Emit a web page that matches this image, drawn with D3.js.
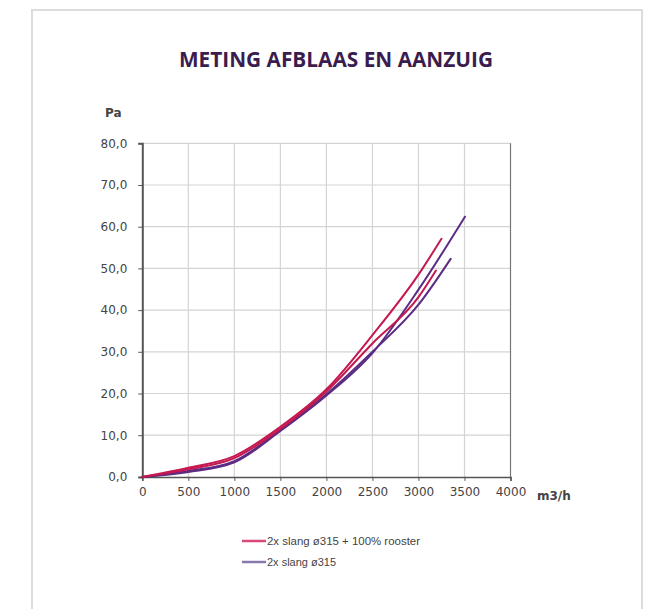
<!DOCTYPE html>
<html>
<head>
<meta charset="utf-8">
<script src="https://cdn.jsdelivr.net/npm/d3@7"></script>
<style>
  html, body { margin: 0; padding: 0; background: #fff; }
  svg { display: block; }
</style>
</head>
<body>
<svg id="chart" width="652" height="609"></svg>
<script>
// Airflow (m3/h) versus pressure (Pa) measurements
const chartTitle = "METING AFBLAAS EN AANZUIG";
const xTickValues = [0, 500, 1000, 1500, 2000, 2500, 3000, 3500, 4000];
const yTickValues = [0, 10, 20, 30, 40, 50, 60, 70, 80];
const seriesNames = ["2x slang ø315 + 100% rooster", "2x slang ø315"];

// two runs per configuration: [flow, pressure]
const roosterRunA = [[0, 0], [500, 2.2], [1000, 5.0], [1500, 12.0], [2000, 21.0], [2500, 34.0], [3000, 48.5], [3250, 57.1]];
const roosterRunB = [[0, 0], [500, 1.8], [1000, 4.5], [1500, 11.5], [2000, 20.5], [2500, 32.0], [3000, 43.1], [3190, 49.5]];
const slangRunA   = [[0, 0], [500, 1.2], [1000, 3.5], [1500, 11.0], [2000, 19.5], [2500, 29.7], [3000, 44.9], [3505, 62.4]];
const slangRunB   = [[0, 0], [500, 1.4], [1000, 3.8], [1500, 11.2], [2000, 19.8], [2500, 30.0], [3000, 41.3], [3350, 52.3]];

const colRooster = "#c4184f";
const colSlang = "#5a2c84";

const svg = d3.select("#chart");

// card frame
svg.append("rect")
  .attr("x", 32).attr("y", 10).attr("width", 610).attr("height", 620)
  .attr("fill", "#fff").attr("stroke", "#dcdcdc").attr("stroke-width", 2);

svg.append("text")
  .attr("x", 336).attr("y", 67)
  .attr("text-anchor", "middle")
  .attr("font-family", "'Open Sans', sans-serif")
  .attr("font-weight", 700)
  .attr("font-size", 22)
  .attr("textLength", 314)
  .attr("lengthAdjust", "spacingAndGlyphs")
  .attr("fill", "#3a1d4e")
  .text(chartTitle);

const plot = { left: 142.3, right: 510.5, top: 143.3, bottom: 476.9 };
const x = d3.scaleLinear().domain([0, 4000]).range([plot.left, plot.right]);
const y = d3.scaleLinear().domain([0, 80]).range([plot.bottom, plot.top]);

const fmt = d => d.toFixed(1).replace(".", ",");

// grid
const grid = svg.append("g");
grid.selectAll("line.v").data(xTickValues.filter(v => v > 0 && v < 4000)).join("line")
  .attr("x1", d => x(d)).attr("x2", d => x(d))
  .attr("y1", plot.top).attr("y2", plot.bottom)
  .attr("stroke", "#d4d4d4").attr("stroke-width", 1.2);
grid.selectAll("line.h").data(yTickValues.filter(v => v > 0)).join("line")
  .attr("x1", plot.left).attr("x2", plot.right)
  .attr("y1", d => y(d)).attr("y2", d => y(d))
  .attr("stroke", "#d4d4d4").attr("stroke-width", 1.2);
// right edge
svg.append("line")
  .attr("x1", plot.right).attr("x2", plot.right)
  .attr("y1", plot.top).attr("y2", plot.bottom)
  .attr("stroke", "#777").attr("stroke-width", 1.2);

// axes
const yAxis = svg.append("g")
  .attr("transform", `translate(${plot.left},0)`)
  .call(d3.axisLeft(y).tickValues(yTickValues).tickFormat(fmt).tickSize(4).tickPadding(11));
const xAxis = svg.append("g")
  .attr("transform", `translate(0,${plot.bottom})`)
  .call(d3.axisBottom(x).tickValues(xTickValues).tickFormat(d3.format("d")).tickSize(4).tickPadding(7));

[yAxis, xAxis].forEach(a => {
  a.select(".domain").attr("stroke", "#555");
  a.selectAll(".tick line").attr("stroke", "#555");
  a.selectAll("text")
    .attr("font-family", "'DejaVu Sans', sans-serif")
    .attr("font-size", 12)
    .attr("fill", "#444");
});
yAxis.select(".domain").attr("stroke-width", 2);
xAxis.select(".domain").attr("stroke-width", 1.5);

// axis units
svg.append("text").attr("x", 105).attr("y", 117)
  .attr("font-family", "'DejaVu Sans', sans-serif").attr("font-weight", 700)
  .attr("font-size", 12).attr("fill", "#444").text("Pa");
svg.append("text").attr("x", 537).attr("y", 500)
  .attr("font-family", "'DejaVu Sans', sans-serif").attr("font-weight", 700)
  .attr("font-size", 12).attr("fill", "#444").text("m3/h");

// curves
const line = d3.line().x(d => x(d[0])).y(d => y(d[1])).curve(d3.curveMonotoneX);
const runs = [
  { data: slangRunB, color: colSlang },
  { data: slangRunA, color: colSlang },
  { data: roosterRunB, color: colRooster },
  { data: roosterRunA, color: colRooster }
];
svg.append("g").selectAll("path").data(runs).join("path")
  .attr("d", d => line(d.data))
  .attr("fill", "none")
  .attr("stroke", d => d.color)
  .attr("stroke-width", 2)
  .attr("stroke-linejoin", "round")
  .attr("stroke-linecap", "round");

// legend
const legendColors = ["#d8487a", "#8878ac"];
const legend = svg.append("g");
seriesNames.forEach((name, i) => {
  const ly = 541 + i * 21;
  legend.append("line")
    .attr("x1", 242).attr("x2", 266).attr("y1", ly).attr("y2", ly)
    .attr("stroke", legendColors[i]).attr("stroke-width", 2.5);
  legend.append("text")
    .attr("x", 267).attr("y", ly + 3.5)
    .attr("font-family", "'Liberation Sans Narrow', 'Liberation Sans', sans-serif")
    .attr("font-size", 10)
    .attr("fill", "#444")
    .attr("textLength", i === 0 ? 153 : 69)
    .attr("lengthAdjust", "spacingAndGlyphs")
    .text(name);
});
</script>
</body>
</html>
